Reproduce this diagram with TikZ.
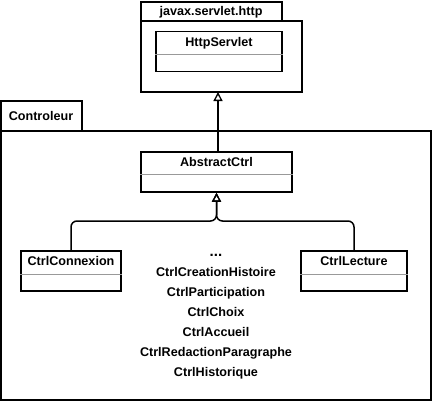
\documentclass[tikz,border=0pt]{standalone}
\usepackage{fontspec}
\setmainfont{Liberation Sans}
\usetikzlibrary{positioning}
\usetikzlibrary{arrows.meta}

\tikzset{
    pkg/.style={draw, line width=1.5pt, fill=white},
    cls/.style={draw, line width=1.5pt, fill=white, minimum height=40pt, inner sep=0pt},
    clstitle/.style={anchor=north, inner sep=0pt, font=\bfseries\fontsize{12.6}{14}\selectfont, text height=9pt, yshift=-6.5pt},
    sepline/.style={draw=gray!80, line width=0.6pt},
    inherit/.style={line width=1.5pt, rounded corners=6pt, -{Triangle[open, length=9pt, width=9pt, line width=1.3pt]}}
}

\begin{document}
\begin{tikzpicture}[x=1pt, y=-1pt]
    \useasboundingbox (0,0) rectangle (432,402);

    % Package javax.servlet.http
    \draw[pkg] (141,2) rectangle (282,21);
    \draw[pkg] (141,21) rectangle (302,92);
    \node[font=\bfseries\fontsize{12.6}{14}\selectfont] (httpPkg) at (211,12) {javax.servlet.http};
    \coordinate (httpBottom) at (218,92);

    \node[cls, minimum width=126pt] (httpServlet) at (219,51.5) {};
    \node[clstitle] (httpServletT) at (httpServlet.north) {HttpServlet};
    \draw[sepline] ([yshift=-24pt]httpServlet.north west) -- ([yshift=-24pt]httpServlet.north east);

    % Package Controleur
    \draw[pkg] (1,101) rectangle (82,131);
    \draw[pkg] (1,131) rectangle (431,400);
    \node[font=\bfseries\fontsize{12.6}{14}\selectfont] (ctrlPkg) at (41,115.5) {Controleur};

    \node[cls, minimum width=151pt] (abstractCtrl) at (216.5,172) {};
    \node[clstitle] (abstractCtrlT) at (abstractCtrl.north) {AbstractCtrl};
    \draw[sepline] ([yshift=-23pt]abstractCtrl.north west) -- ([yshift=-23pt]abstractCtrl.north east);

    \node[cls, minimum width=100pt] (ctrlConnexion) at (71,271) {};
    \node[clstitle] (ctrlConnexionT) at (ctrlConnexion.north) {CtrlConnexion};
    \draw[sepline] ([yshift=-24pt]ctrlConnexion.north west) -- ([yshift=-24pt]ctrlConnexion.north east);

    \node[cls, minimum width=106pt] (ctrlLecture) at (354,271) {};
    \node[clstitle] (ctrlLectureT) at (ctrlLecture.north) {CtrlLecture};
    \draw[sepline] ([yshift=-24pt]ctrlLecture.north west) -- ([yshift=-24pt]ctrlLecture.north east);

    % other controllers
    \node[align=center, font=\bfseries\fontsize{12.6}{20}\selectfont] (autres) at (216,316.5)
        {{\fontsize{15}{20}\selectfont ...}\\CtrlCreationHistoire\\CtrlParticipation\\CtrlChoix\\CtrlAccueil\\CtrlRedactionParagraphe\\CtrlHistorique};

    % inheritance
    \draw[inherit] (abstractCtrl.north -| httpBottom) -- (httpBottom);
    \draw[inherit] (ctrlConnexion.north) |- (216.5,221) -- (abstractCtrl.south);
    \draw[inherit] (ctrlLecture.north) |- (216.5,221) -- (abstractCtrl.south);

\end{tikzpicture}
\end{document}
